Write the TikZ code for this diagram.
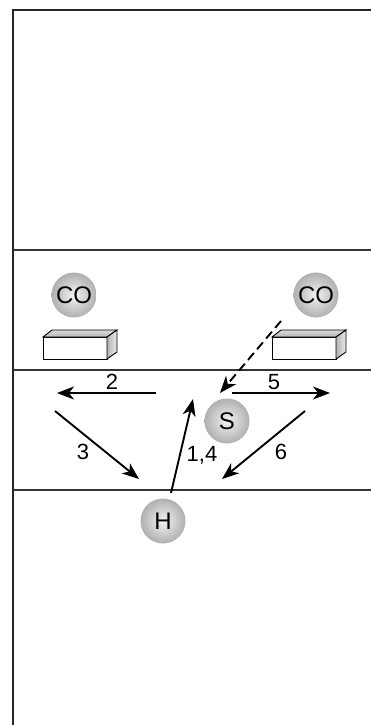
\documentclass[tikz,border=0pt]{standalone}
\usepackage{fontspec}
\setmainfont{Liberation Sans}
\usetikzlibrary{arrows.meta}

\tikzset{
  player/.style={circle, minimum size=45pt, inner sep=0pt,
    shading=radial, inner color=gray!10, outer color=gray!62,
    font=\fontsize{24}{24}\selectfont},
  move/.style={line width=1.9pt, -{Stealth[length=17pt,width=13pt,inset=5pt]}},
  num/.style={font=\fontsize{22}{22}\selectfont, inner sep=0pt},
  court/.style={line width=1.3pt, black!80},
  edge/.style={line width=2.6pt, black!85},
  bench/.pic={
    % front face
    \draw[line width=0.9pt, fill=white] (0,0) rectangle (64,22);
    % top face
    \draw[line width=0.9pt, top color=gray!30, bottom color=gray!55]
      (0,0) -- (9,-7) -- (74,-7) -- (64,0) -- cycle;
    % side face
    \draw[line width=0.9pt, left color=gray!60, right color=gray!15]
      (64,0) -- (74,-7) -- (74,15) -- (64,22) -- cycle;
  }
}

\begin{document}
\begin{tikzpicture}[x=1pt, y=-1pt]
\useasboundingbox (0,0) rectangle (371,725);

% outer edges of the court
\draw[edge] (13,725) -- (13,10) -- (371,10);
% court lines
\draw[court] (13,250) -- (371,250);
\draw[court] (13,370) -- (371,370);
\draw[court] (13,490) -- (371,490);

% benches
\pic at (43,337) {bench};
\pic at (272,337) {bench};

% players
\node[player] (co1) at (74,295) {CO};
\node[player] (co2) at (316,295) {CO};
\node[player] (s) at (227,421) {S};
\node[player] (h) at (163,521) {H};

% arrow end points
\coordinate (a2s) at (156,393);
\coordinate (a2e) at (57,393);
\coordinate (a5s) at (232,393);
\coordinate (a5e) at (330,393);
\coordinate (a3s) at (55,411);
\coordinate (a3e) at (139,479);
\coordinate (a1s) at (171,493);
\coordinate (a1e) at (193,399);
\coordinate (a6s) at (305,411);
\coordinate (a6e) at (222,479);
\coordinate (ds) at (281,321);
\coordinate (de) at (220,393);

% movements
\draw[move] (a2s) -- (a2e);
\draw[move] (a5s) -- (a5e);
\draw[move] (a3s) -- (a3e);
\draw[move] (a1s) -- (a1e);
\draw[move] (a6s) -- (a6e);
\draw[move, dash pattern=on 9pt off 5pt] (ds) -- (de);

% step numbers
\node[num] (n2) at (112,382) {2};
\node[num] (n5) at (274,382) {5};
\node[num] (n3) at (83,452) {3};
\node[num] (n14) at (202,455) {1,4};
\node[num] (n6) at (281,452) {6};
\end{tikzpicture}
\end{document}
